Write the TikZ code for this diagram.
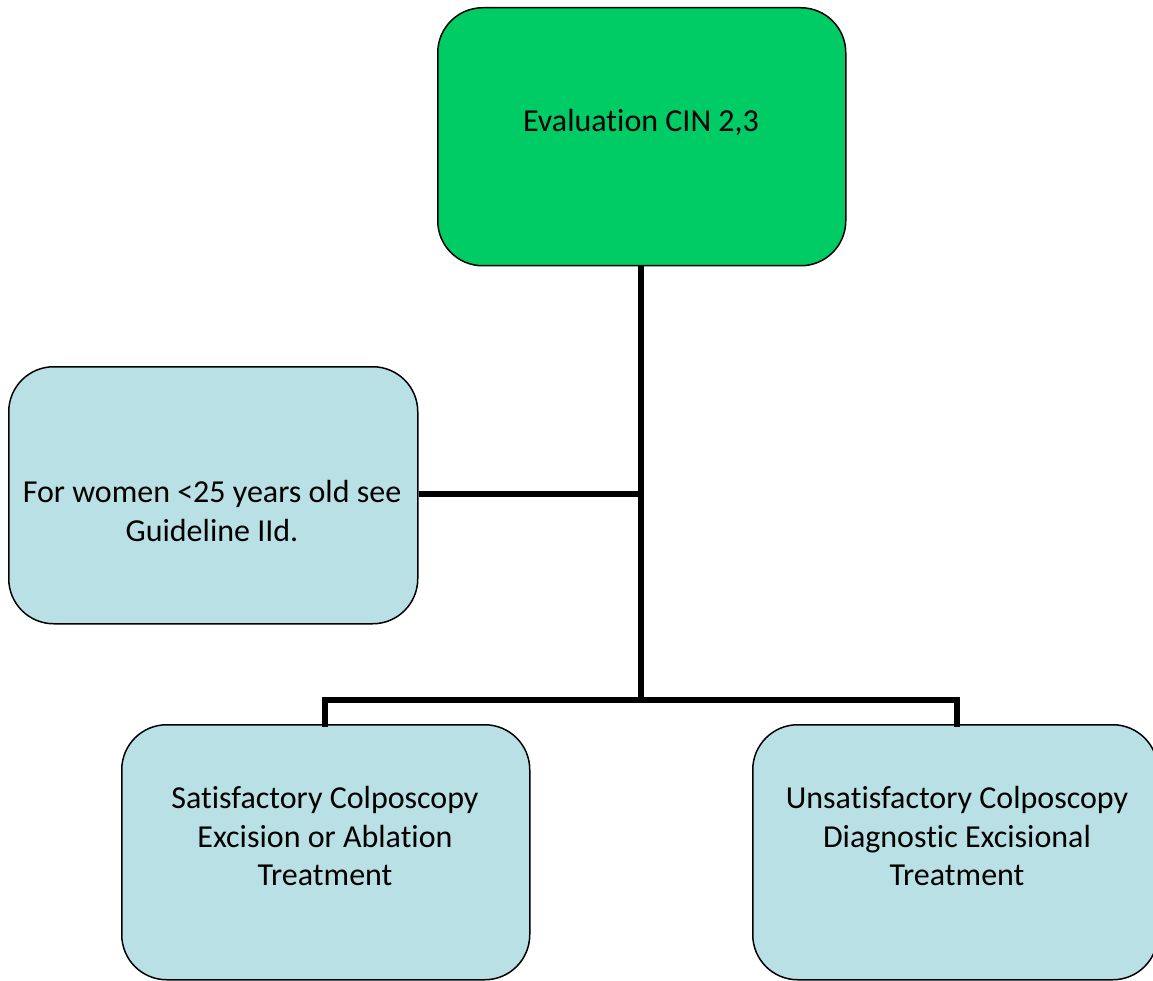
\documentclass[tikz,border=0pt]{standalone}
\usepackage{fontspec}
\setmainfont[Ligatures={NoCommon,NoContextual}]{Carlito}
\definecolor{topgreen}{RGB}{0,204,102}
\definecolor{paleblue}{RGB}{185,224,228}
\begin{document}
\begin{tikzpicture}[x=1pt,y=-1pt,
  box/.style={draw=black,line width=1.5pt,rounded corners=45pt,inner sep=0pt,anchor=north west},
  txt/.style={align=center,font=\fontsize{32}{38.5}\selectfont,inner sep=0pt},
  conn/.style={draw=black,line width=6pt}]
\useasboundingbox (0,0) rectangle (1153,981);
\node[box,fill=topgreen,minimum width=408pt,minimum height=258pt] (top) at (437,7) {};
\node[box,fill=paleblue,minimum width=409pt,minimum height=257pt] (left) at (8,366) {};
\node[box,fill=paleblue,minimum width=408pt,minimum height=255pt] (bl) at (121,724) {};
\node[box,fill=paleblue,minimum width=405pt,minimum height=255pt] (br) at (752,724) {};
\node[txt] (toptxt) at (641,122) {Evaluation CIN 2,3};
\node[txt] (lefttxt) at (212,511) {For women <25 years old see\\Guideline IId.};
\node[txt] (bltxt) at (325,836) {Satisfactory Colposcopy\\Excision or Ablation\\Treatment};
\node[txt] (brtxt) at (957,836) {Unsatisfactory Colposcopy\\Diagnostic Excisional\\Treatment};
\coordinate (j1) at (641,494);
\coordinate (j2) at (641,700);
\draw[conn] (top.south -| j1) -- (j1) -- (j2);
\draw[conn] (left.east |- j1) -- (j1);
\draw[conn,line cap=rect] (bl.north -| 325,0) -- (325,700) -- (957,700) -- (br.north -| 957,0);
\end{tikzpicture}
\end{document}
